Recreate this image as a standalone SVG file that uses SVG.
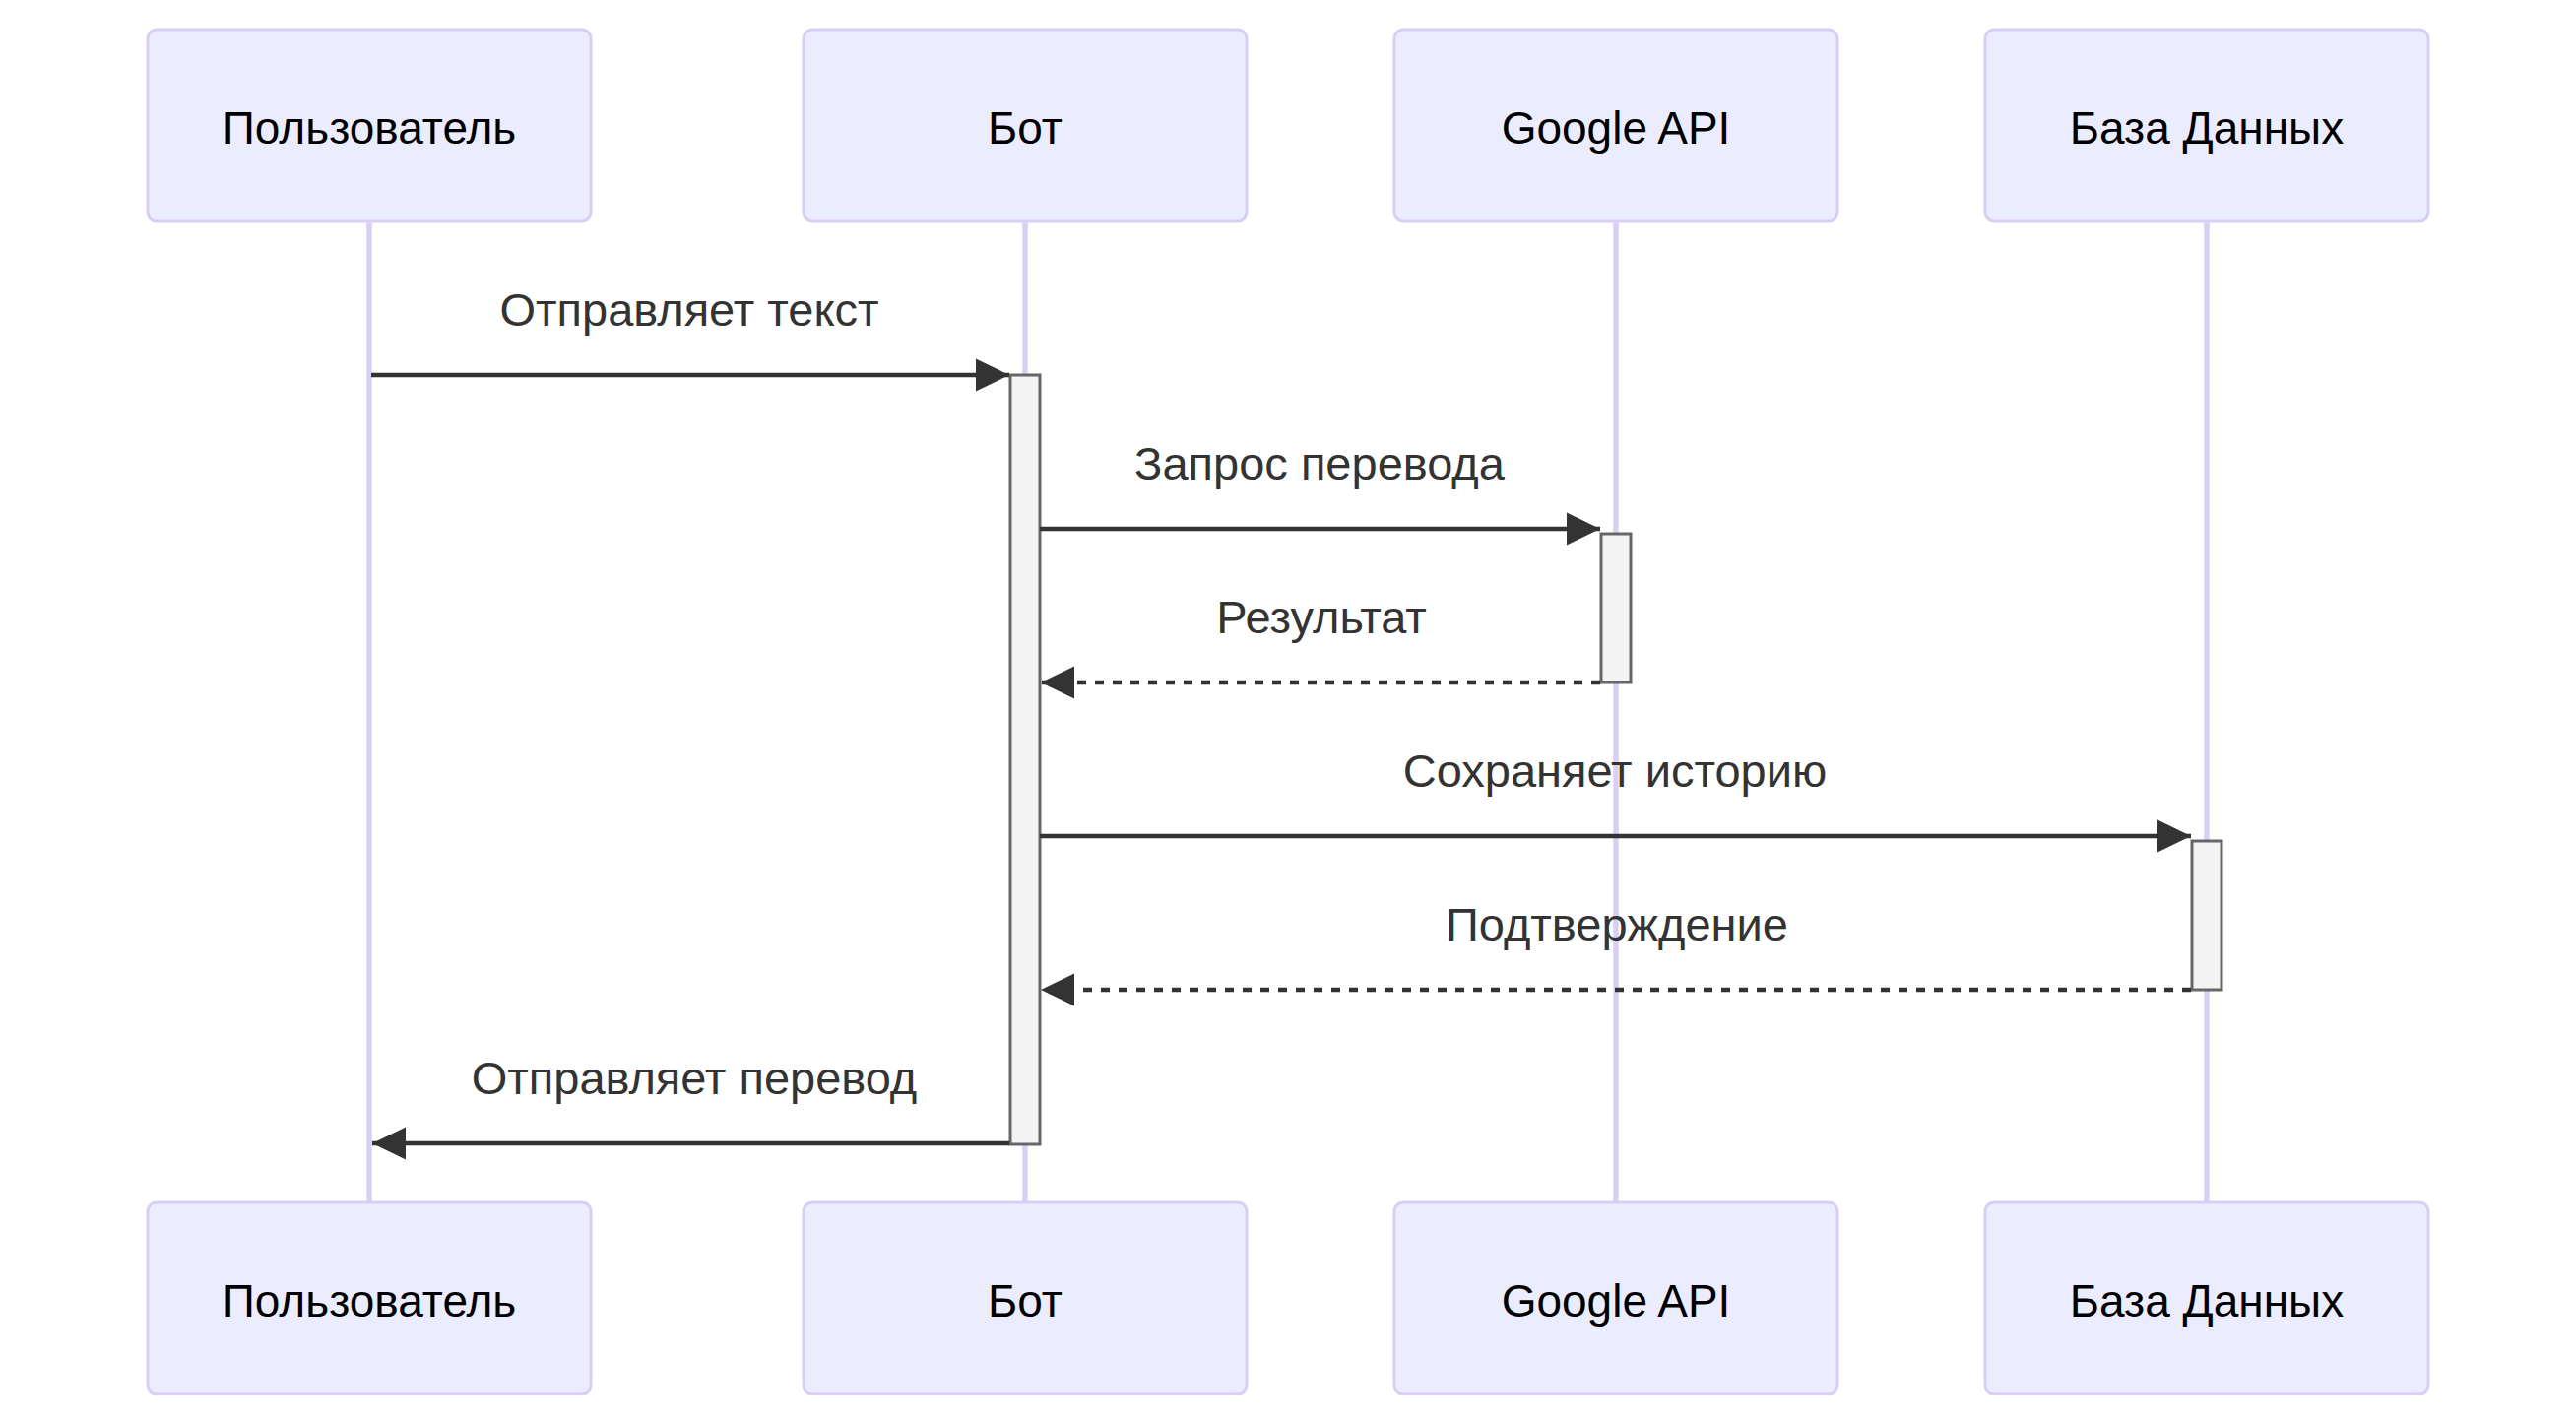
<svg xmlns="http://www.w3.org/2000/svg" width="2616" height="1449" viewBox="0 0 2616 1449">
<style>
.actor rect{fill:#ECECFF;stroke:#D9CEF3;stroke-width:3}
.actor text{font-family:"Liberation Sans",Arial,sans-serif;font-size:46px;fill:#000;text-anchor:middle}
.life{stroke:#D9CEF3;stroke-width:5.5}
.act{fill:#F4F4F4;stroke:#666;stroke-width:3}
.msg{stroke:#333;stroke-width:4.5;fill:none;marker-end:url(#arrow)}
.dash{stroke-dasharray:9 9}
.lbl{font-family:"Liberation Sans",Arial,sans-serif;font-size:47px;fill:#333;text-anchor:middle}
</style>
<defs>
<marker id="arrow" markerUnits="userSpaceOnUse" markerWidth="34" markerHeight="34" viewBox="0 0 32 31" refX="32" refY="15.5" orient="auto">
<path d="M0 0 L32 15.5 L0 31 Z" fill="#333"/>
</marker>
</defs>
<rect width="2616" height="1449" fill="#fff"/>
<g id="lifelines">
<line class="life" x1="375" y1="225" x2="375" y2="1221"/>
<line class="life" x1="1041" y1="225" x2="1041" y2="1221"/>
<line class="life" x1="1641" y1="225" x2="1641" y2="1221"/>
<line class="life" x1="2241" y1="225" x2="2241" y2="1221"/>
</g>
<g id="actor-user-top" class="actor"><rect x="150" y="30" width="450" height="194" rx="9"/><text x="375" y="146">Пользователь</text></g>
<g id="actor-bot-top" class="actor"><rect x="816" y="30" width="450" height="194" rx="9"/><text x="1041" y="146">Бот</text></g>
<g id="actor-google-top" class="actor"><rect x="1416" y="30" width="450" height="194" rx="9"/><text x="1641" y="146">Google API</text></g>
<g id="actor-db-top" class="actor"><rect x="2016" y="30" width="450" height="194" rx="9"/><text x="2241" y="146">База Данных</text></g>
<g id="actor-user-bottom" class="actor"><rect x="150" y="1221" width="450" height="194" rx="9"/><text x="375" y="1337">Пользователь</text></g>
<g id="actor-bot-bottom" class="actor"><rect x="816" y="1221" width="450" height="194" rx="9"/><text x="1041" y="1337">Бот</text></g>
<g id="actor-google-bottom" class="actor"><rect x="1416" y="1221" width="450" height="194" rx="9"/><text x="1641" y="1337">Google API</text></g>
<g id="actor-db-bottom" class="actor"><rect x="2016" y="1221" width="450" height="194" rx="9"/><text x="2241" y="1337">База Данных</text></g>
<g id="activations">
<rect class="act" x="1026" y="381" width="30" height="781"/>
<rect class="act" x="1626" y="542" width="30" height="151"/>
<rect class="act" x="2226" y="854" width="30" height="151"/>
</g>
<g id="connectors">
<line class="msg" x1="377" y1="381" x2="1025" y2="381"/>
<line class="msg" x1="1056" y1="537" x2="1625" y2="537"/>
<line class="msg dash" x1="1625" y1="693" x2="1057" y2="693"/>
<line class="msg" x1="1056" y1="849" x2="2225" y2="849"/>
<line class="msg dash" x1="2225" y1="1005" x2="1057" y2="1005"/>
<line class="msg" x1="1025" y1="1161" x2="378" y2="1161"/>
</g>
<g id="labels">
<text class="lbl" x="700" y="331">Отправляет текст</text>
<text class="lbl" x="1340" y="487">Запрос перевода</text>
<text class="lbl" x="1342" y="643">Результат</text>
<text class="lbl" x="1640" y="799">Сохраняет историю</text>
<text class="lbl" x="1642" y="955">Подтверждение</text>
<text class="lbl" x="705" y="1111">Отправляет перевод</text>
</g>
</svg>
